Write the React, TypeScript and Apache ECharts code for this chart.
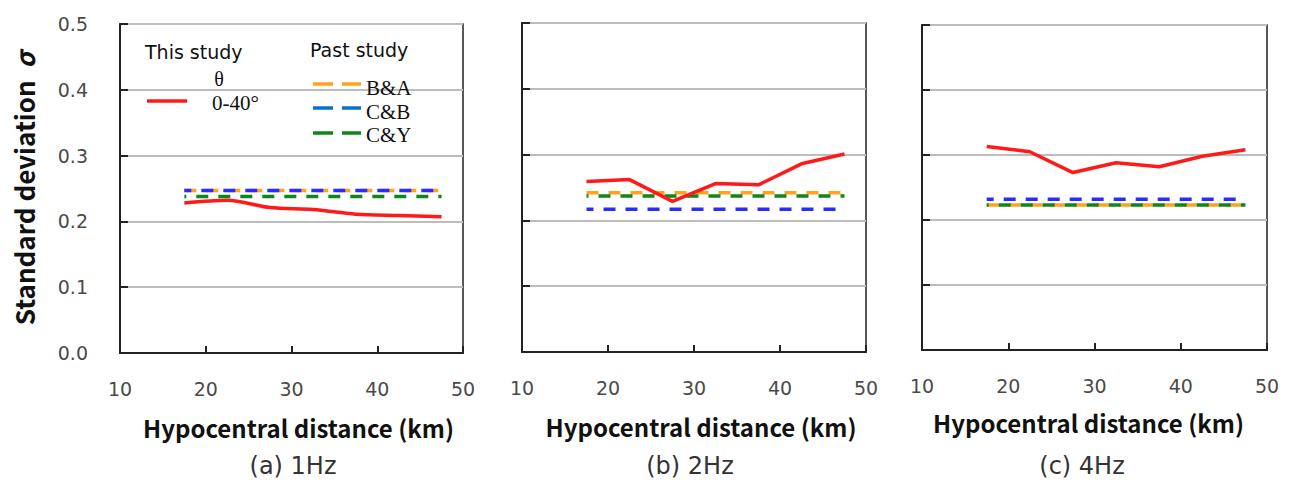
import React, { useEffect, useRef } from "react";
import * as echarts from "echarts";

const distance = [17.5, 22.5, 27.5, 32.5, 37.5, 42.5, 47.5];
const thisStudy1Hz = [0.228, 0.232, 0.221, 0.218, 0.211, 0.209, 0.207];
const thisStudy2Hz = [0.259, 0.262, 0.229, 0.256, 0.254, 0.286, 0.301];
const thisStudy4Hz = [0.313, 0.305, 0.273, 0.288, 0.282, 0.298, 0.308];
// past studies, one value per panel (1Hz, 2Hz, 4Hz)
const pastBA = [0.247, 0.242, 0.223];
const pastCB = [0.247, 0.217, 0.232];
const pastCY = [0.238, 0.237, 0.223];
const panelTitles = ["(a) 1Hz", "(b) 2Hz", "(c) 4Hz"];

const RED = "#ff1a1a";
const ORANGE = "#ffa31a";
const BLUE = "#2b2bff";
const GREEN = "#10861a";
const BOLD = "'Noto Sans CJK JP', 'Noto Sans', sans-serif";
const SANS = "'DejaVu Sans', sans-serif";
const SERIF = "'Liberation Serif', 'DejaVu Serif', serif";

const grids = [
  { left: 120, top: 24, width: 343, height: 329 },
  { left: 522, top: 23, width: 344, height: 329 },
  { left: 922, top: 25, width: 345, height: 325 },
];
const xNamePadding = [
  [0, 0, 0, 14],
  [0, 0, 0, 14],
  [0, 12, 0, 0],
];

export default function App() {
  const ref = useRef<HTMLDivElement>(null);
  useEffect(() => {
    if (!ref.current) return;
    const chart = echarts.init(ref.current, null, { renderer: "svg" });
    const studies = [thisStudy1Hz, thisStudy2Hz, thisStudy4Hz];
    const series: any[] = [];
    const past = [
      { name: "B&A", vals: pastBA, color: ORANGE },
      { name: "C&B", vals: pastCB, color: BLUE },
      { name: "C&Y", vals: pastCY, color: GREEN },
    ];
    for (let i = 0; i < 3; i++) {
      past.forEach((p, j) => {
        series.push({
          type: "line",
          name: p.name,
          xAxisIndex: i,
          yAxisIndex: i,
          symbol: "none",
          data: [
            [distance[0], p.vals[i]],
            [distance[distance.length - 1], p.vals[i]],
          ],
          lineStyle: { color: p.color, width: 3.5, type: [12, 10], dashOffset: j * 5 },
          z: 3,
        });
      });
      series.push({
        type: "line",
        name: "0-40°",
        xAxisIndex: i,
        yAxisIndex: i,
        symbol: "none",
        smooth: i === 0 ? 0.3 : false,
        data: distance.map((d, k) => [d, studies[i][k]]),
        lineStyle: { color: RED, width: 3.5 },
        z: 4,
      });
    }

    const xAxis = grids.map((_, i) => ({
      type: "value",
      gridIndex: i,
      min: 10,
      max: 50,
      interval: 10,
      name: "Hypocentral distance (km)",
      nameLocation: "middle",
      nameGap: i === 2 ? 60 : 62,
      nameTextStyle: {
        fontFamily: BOLD,
        fontWeight: "bold",
        fontSize: 24,
        color: "#111",
        padding: xNamePadding[i],
      },
      axisLine: { show: true, lineStyle: { color: "#222", width: 2 } },
      axisTick: { show: true, inside: true, length: 7, lineStyle: { color: "#222", width: 2 } },
      axisLabel: { margin: 26, fontFamily: SANS, fontSize: 19, color: "#4a4a4a" },
      splitLine: { show: false },
    }));

    const yAxis = grids.map((_, i) => ({
      type: "value",
      gridIndex: i,
      min: 0,
      max: 0.5,
      interval: 0.1,
      name: i === 0 ? "Standard deviation  {s|σ}" : "",
      nameLocation: "middle",
      nameGap: 84,
      nameTextStyle: {
        fontFamily: BOLD,
        fontWeight: "bold",
        fontSize: 26,
        color: "#111",
        rich: { s: { fontFamily: BOLD, fontWeight: "bold", fontStyle: "italic", fontSize: 26, color: "#111" } },
      },
      axisLine: { show: true, lineStyle: { color: "#222", width: 2 } },
      axisTick: { show: true, inside: true, length: 8, lineStyle: { color: "#222", width: 2 } },
      axisLabel: {
        show: i === 0,
        margin: 32,
        fontFamily: SANS,
        fontSize: 19,
        color: "#4a4a4a",
        formatter: (v: number) => v.toFixed(1),
      },
      splitLine: { show: true, lineStyle: { color: "#bdbdbd", width: 2 } },
    }));

    const legendText = (text: string, x: number, y: number, font: string, size: number, align = "left", fill = "#111") => ({
      type: "text",
      x,
      y,
      style: { text, fontFamily: font, fontSize: size, fill, textAlign: align, textVerticalAlign: "middle" },
      z: 10,
    });
    const legendLine = (x1: number, x2: number, y: number, color: string, dashed: boolean) => ({
      type: "line",
      shape: { x1, y1: y, x2, y2: y },
      style: { stroke: color, lineWidth: 3.5, lineDash: dashed ? [20, 9] : null },
      z: 10,
    });

    const titleCenters = [293, 690, 1082];
    const graphic: any[] = [
      legendText("This study", 145, 52, SANS, 19),
      legendText("θ", 219, 79, SERIF, 20, "center"),
      legendLine(147, 187, 101, RED, false),
      legendText("0-40°", 212, 103, SERIF, 21),
      legendText("Past study", 310, 50, SANS, 19),
      legendLine(313, 361, 84, ORANGE, true),
      legendText("B&A", 366, 88, SERIF, 21),
      legendLine(313, 361, 108, "#0a70c8", true),
      legendText("C&B", 366, 112, SERIF, 21),
      legendLine(313, 361, 133, GREEN, true),
      legendText("C&Y", 366, 135, SERIF, 21),
      ...panelTitles.map((t, i) => legendText(t, titleCenters[i], 466, SANS, 24, "center", "#333")),
    ];

    chart.setOption({
      animation: false,
      backgroundColor: "#ffffff",
      grid: grids.map((g) => ({ ...g, show: true, borderColor: "#222", borderWidth: 1.5, backgroundColor: "transparent" })),
      xAxis,
      yAxis,
      series,
      graphic,
    });
    return () => chart.dispose();
  }, []);
  return (
    <div
      ref={ref}
      style={{ position: "absolute", left: 0, top: 0, width: 1293, height: 480 }}
    />
  );
}
